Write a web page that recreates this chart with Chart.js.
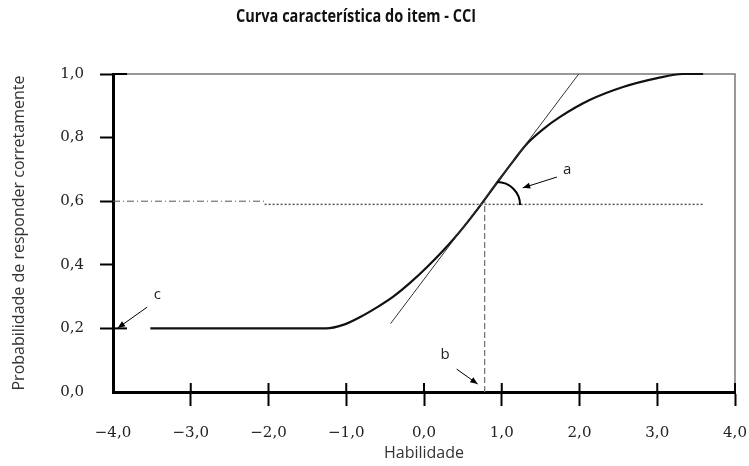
<!DOCTYPE html>
<html>
<head>
<meta charset="utf-8">
<title>Curva característica do item - CCI</title>
<script src="https://cdn.jsdelivr.net/npm/chart.js@4.4.1/dist/chart.umd.min.js"></script>
<style>
  html, body { margin: 0; padding: 0; background: #fff; }
  #box { width: 749px; height: 466px; }
</style>
</head>
<body>
<div id="box"><canvas id="cci"></canvas></div>
<script>
// rótulos dos eixos
const xTickLabels = ['−4,0', '−3,0', '−2,0', '−1,0', '0,0', '1,0', '2,0', '3,0', '4,0'];
const yTickLabels = ['0,0', '0,2', '0,4', '0,6', '0,8', '1,0'];

// curva do item (habilidade x probabilidade de acerto)
const habilidade = [-3.52, -1.26, -1.04, -0.82, -0.60, -0.40, -0.18, 0.04, 0.37, 0.68, 0.95, 1.15, 1.33, 1.53, 1.75, 2.13, 2.56, 3.0, 3.33, 3.59];
const probAcerto = [0.2, 0.2, 0.211, 0.236, 0.267, 0.299, 0.343, 0.393, 0.478, 0.572, 0.662, 0.727, 0.782, 0.826, 0.865, 0.918, 0.959, 0.987, 1.0, 1.0];

// reta tangente no ponto b
const tangenteX = [-0.43, 1.99];
const tangenteY = [0.215, 1.0];

// parametros
const paramB = 0.78;
const probB = 0.6;
const tracoX = [-4, -2.05];        // traço-ponto em 0,6
const pontilhadoX = [-2.05, 3.6];  // pontilhado logo abaixo
const pontilhadoY = 0.59;

const zip = (xs, ys) => xs.map((x, i) => ({ x: x, y: ys[i] }));

const SANS = "'Open Sans', sans-serif";
const SERIF = "'DejaVu Serif', serif";

// setas e letras a, b, c (coordenadas nos eixos)
const anotacoes = [
  { letra: 'a', texto: [1.84, 0.70], de: [1.71, 0.676], para: [1.27, 0.642] },
  { letra: 'b', texto: [0.27, 0.116], de: [0.42, 0.072], para: [0.69, 0.025] },
  { letra: 'c', texto: [-3.43, 0.305], de: [-3.56, 0.267], para: [-3.94, 0.201] }
];

function seta(ctx, x1, y1, x2, y2) {
  const ang = Math.atan2(y2 - y1, x2 - x1);
  ctx.beginPath();
  ctx.moveTo(x1, y1);
  ctx.lineTo(x2, y2);
  ctx.stroke();
  ctx.beginPath();
  ctx.moveTo(x2, y2);
  ctx.lineTo(x2 - 8 * Math.cos(ang - 0.38), y2 - 8 * Math.sin(ang - 0.38));
  ctx.lineTo(x2 - 8 * Math.cos(ang + 0.38), y2 - 8 * Math.sin(ang + 0.38));
  ctx.closePath();
  ctx.fill();
}

const marcasPlugin = {
  id: 'marcas',
  beforeDatasetsDraw(chart) {
    const { ctx, chartArea: a } = chart;
    // moldura fina em cima e à direita
    ctx.save();
    ctx.strokeStyle = '#777';
    ctx.lineWidth = 1.5;
    ctx.beginPath();
    ctx.moveTo(a.left, a.top);
    ctx.lineTo(a.right, a.top);
    ctx.lineTo(a.right, a.bottom);
    ctx.stroke();
    ctx.restore();
  },
  afterDatasetsDraw(chart) {
    const { ctx, chartArea: a } = chart;
    const sx = chart.scales.x, sy = chart.scales.y;
    ctx.save();
    ctx.strokeStyle = '#000';
    ctx.fillStyle = '#000';
    ctx.lineWidth = 2;

    // marcas do eixo x cruzando para dentro
    sx.ticks.forEach(t => {
      if (t.value === -4) return;
      const px = sx.getPixelForValue(t.value);
      ctx.beginPath();
      ctx.moveTo(px, a.bottom);
      ctx.lineTo(px, a.bottom - 9);
      ctx.stroke();
    });
    // marcas do eixo y em 0,2 e 1,0 também para dentro
    [0.2, 1.0].forEach(v => {
      const py = sy.getPixelForValue(v);
      ctx.beginPath();
      ctx.moveTo(a.left, py);
      ctx.lineTo(a.left + 14, py);
      ctx.stroke();
    });

    // arco do ângulo a
    const cx = sx.getPixelForValue(0.94), cy = sy.getPixelForValue(0.588);
    ctx.beginPath();
    ctx.arc(cx, cy, 23, -Math.PI / 2, 0);
    ctx.stroke();

    // setas e letras
    ctx.lineWidth = 1;
    ctx.font = '15px ' + SANS;
    ctx.textAlign = 'center';
    ctx.textBaseline = 'middle';
    anotacoes.forEach(n => {
      seta(ctx, sx.getPixelForValue(n.de[0]), sy.getPixelForValue(n.de[1]),
        sx.getPixelForValue(n.para[0]), sy.getPixelForValue(n.para[1]));
      ctx.fillStyle = '#222';
      ctx.fillText(n.letra, sx.getPixelForValue(n.texto[0]), sy.getPixelForValue(n.texto[1]));
      ctx.fillStyle = '#000';
    });
    ctx.restore();
  },
  afterDraw(chart) {
    const ctx = chart.ctx;
    ctx.save();
    ctx.font = 'bold 18px ' + SANS;
    ctx.fillStyle = '#111';
    ctx.textAlign = 'center';
    ctx.textBaseline = 'middle';
    ctx.fillText('Curva característica do item - CCI', 356, 17, 240);
    ctx.restore();
  }
};

new Chart(document.getElementById('cci'), {
  type: 'line',
  data: {
    datasets: [
      {
        data: zip(tracoX, [probB, probB]),
        borderColor: '#555', borderWidth: 1, borderDash: [7, 3, 1, 3]
      },
      {
        data: zip(pontilhadoX, [pontilhadoY, pontilhadoY]),
        borderColor: '#555', borderWidth: 1.5, borderDash: [2, 2]
      },
      {
        data: zip([paramB, paramB], [0, probB]),
        borderColor: '#777', borderWidth: 1.3, borderDash: [6, 3]
      },
      {
        data: zip(tangenteX, tangenteY),
        borderColor: '#333', borderWidth: 1
      },
      {
        data: zip(habilidade, probAcerto),
        borderColor: '#111', borderWidth: 2.2,
        cubicInterpolationMode: 'monotone'
      }
    ]
  },
  options: {
    responsive: true,
    maintainAspectRatio: false,
    animation: false,
    layout: { autoPadding: false, padding: { top: 74, right: 14, left: 0, bottom: 0 } },
    elements: { point: { radius: 0 }, line: { tension: 0 } },
    datasets: { line: { clip: false } },
    plugins: { legend: { display: false }, tooltip: { enabled: false } },
    scales: {
      x: {
        type: 'linear', min: -4, max: 4,
        afterFit: s => { s.height = 74; s.paddingLeft = 0; s.paddingRight = 0; },
        border: { color: '#000', width: 3 },
        grid: {
          drawOnChartArea: false, tickLength: 14, tickWidth: 2,
          tickColor: c => (c.tick && c.tick.value === -4 ? 'transparent' : '#000')
        },
        ticks: {
          stepSize: 1, padding: 18, color: '#222', maxRotation: 0,
          font: { family: SERIF, size: 15 },
          callback: (v, i) => xTickLabels[i]
        },
        title: {
          display: true, text: 'Habilidade', color: '#333',
          font: { family: SANS, size: 16 }, padding: { top: 0, bottom: 3 }
        }
      },
      y: {
        min: 0, max: 1,
        afterFit: s => { s.width = 113; s.paddingTop = 0; s.paddingBottom = 0; },
        border: { color: '#000', width: 3 },
        grid: {
          drawOnChartArea: false, tickLength: 13, tickWidth: 2,
          tickColor: c => (c.tick && c.tick.value === 0 ? 'transparent' : '#000')
        },
        ticks: {
          stepSize: 0.2, padding: 16, color: '#222',
          font: { family: SERIF, size: 15 },
          callback: (v, i) => yTickLabels[i]
        },
        title: {
          display: true, text: 'Probabilidade de responder corretamente', color: '#333',
          font: { family: SANS, size: 16 }, padding: { top: 10, bottom: 0 }
        }
      }
    }
  },
  plugins: [marcasPlugin]
});
</script>
</body>
</html>
